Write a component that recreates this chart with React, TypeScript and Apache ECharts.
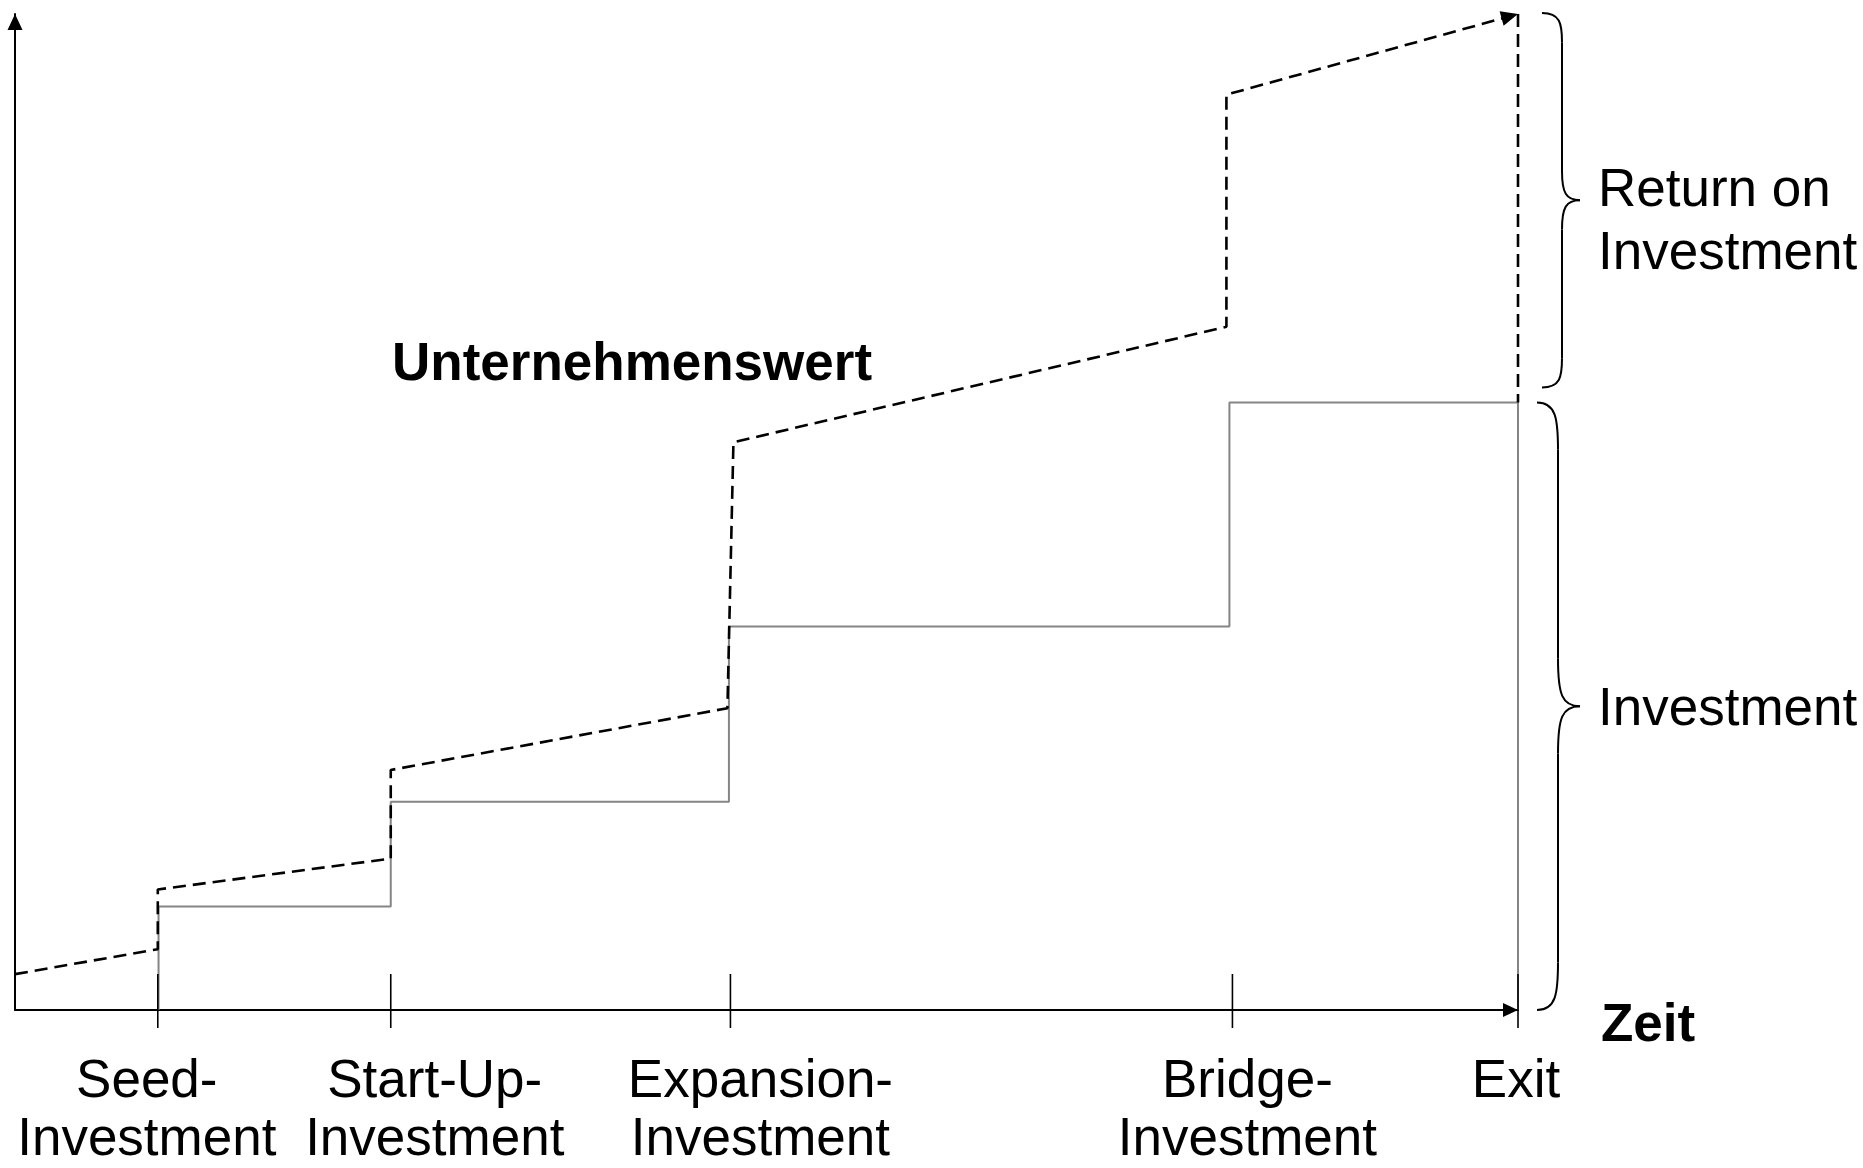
import React, { useEffect, useRef } from "react";
import * as echarts from "echarts";

// Zeitachse: 0 = Gründung, 100 = Exit
const stageNames = [
  "Seed-\nInvestment",
  "Start-Up-\nInvestment",
  "Expansion-\nInvestment",
  "Bridge-\nInvestment",
  "Exit",
];
const stageTicks = [9.5, 25, 47.6, 81, 100];

// Investment (kumuliert) – graue Stufenlinie
const investmentX = [9.55, 9.55, 25, 25, 47.5, 47.5, 80.8, 80.8, 100, 100];
const investmentY = [0, 10.4, 10.4, 20.9, 20.9, 38.5, 38.5, 61, 61, 0];

// Unternehmenswert – gestrichelte Linie
const valueX = [0, 9.5, 9.5, 25, 25, 47.4, 47.8, 80.6, 80.6, 100];
const valueY = [3.6, 6.1, 12.1, 15.2, 24.1, 30.3, 57.0, 68.6, 91.9, 100];

// Exit: Wert und Investment
const exitX = 100;
const exitValue = 100;
const exitInvestment = 61;

// layout-only (pixel shifts of the stage labels relative to their ticks)
const labelShift = [-11, 44, 30, 15, -2];

const FONT = "Liberation Sans, Arial, Helvetica, sans-serif";
const FS = 53;

export default function App() {
  const ref = useRef<HTMLDivElement>(null);

  useEffect(() => {
    const el = ref.current!;
    const chart = echarts.init(el, null, { renderer: "svg" });

    const investmentPts = investmentX.map((x, i) => [x, investmentY[i]]);
    const valuePts = valueX.map((x, i) => [x, valueY[i]]);
    const n = valueX.length;

    const option: any = {
      animation: false,
      backgroundColor: "#ffffff",
      grid: { left: 15, right: 345, top: 14, bottom: 158, containLabel: false },
      xAxis: {
        type: "value",
        min: 0,
        max: 100,
        axisLine: {
          show: true,
          onZero: false,
          symbol: ["none", "triangle"],
          symbolSize: [14, 15],
          symbolOffset: [0, -7.5],
          lineStyle: { color: "#000", width: 2 },
        },
        axisTick: { show: false },
        axisLabel: { show: false },
        splitLine: { show: false },
      },
      yAxis: {
        type: "value",
        min: 0,
        max: 100,
        axisLine: {
          show: true,
          onZero: false,
          symbol: ["none", "triangle"],
          symbolSize: [15, 16],
          symbolOffset: [0, -8],
          lineStyle: { color: "#000", width: 2 },
        },
        axisTick: { show: false },
        axisLabel: { show: false },
        splitLine: { show: false },
      },
      series: [
        {
          name: "Investment",
          type: "line",
          data: investmentPts,
          symbol: "none",
          clip: false,
          lineStyle: { color: "#858585", width: 2 },
          z: 2,
        },
        {
          name: "Unternehmenswert",
          type: "line",
          data: valuePts,
          symbol: "none",
          clip: false,
          lineStyle: { color: "#000", width: 2.6, type: [13, 7] },
          z: 3,
        },
        {
          name: "Exit-Differenz",
          type: "line",
          data: [
            [exitX, exitValue],
            [exitX, exitInvestment],
          ],
          symbol: "none",
          clip: false,
          lineStyle: { color: "#000", width: 2.6, type: [13, 7] },
          z: 3,
        },
        {
          name: "Pfeil",
          type: "custom",
          clip: false,
          z: 4,
          encode: { x: 0, y: 1 },
          data: [[valueX[n - 1], valueY[n - 1], valueX[n - 2], valueY[n - 2]]],
          renderItem: (params: any, api: any) => {
            const tip = api.coord([api.value(0), api.value(1)]);
            const from = api.coord([api.value(2), api.value(3)]);
            const dx = tip[0] - from[0];
            const dy = tip[1] - from[1];
            const len = Math.hypot(dx, dy);
            const ux = dx / len;
            const uy = dy / len;
            const L = 17;
            const W = 7.5;
            const bx = tip[0] - ux * L;
            const by = tip[1] - uy * L;
            return {
              type: "polygon",
              shape: {
                points: [
                  [tip[0], tip[1]],
                  [bx - uy * W, by + ux * W],
                  [bx + uy * W, by - ux * W],
                ],
              },
              style: { fill: "#000", stroke: "none" },
            };
          },
        },
        {
          name: "Ticks",
          type: "custom",
          clip: false,
          z: 5,
          encode: { x: 0, y: 1 },
          data: stageTicks.map((t) => [t, 0]),
          renderItem: (params: any, api: any) => {
            const p = api.coord([api.value(0), 0]);
            return {
              type: "line",
              shape: { x1: p[0], y1: p[1] - 36, x2: p[0], y2: p[1] + 18 },
              style: { stroke: "#000", lineWidth: 1.6 },
            };
          },
        },
        {
          name: "Labels",
          type: "custom",
          clip: false,
          z: 5,
          encode: { x: 0, y: 1 },
          data: stageTicks.map((t) => [t, 0]),
          renderItem: (params: any, api: any) => {
            const i = params.dataIndex;
            const p = api.coord([api.value(0), 0]);
            const lines = stageNames[i].split("\n");
            return {
              type: "group",
              children: lines.map((ln, k) => ({
                type: "text",
                x: p[0] + labelShift[i],
                y: p[1] + 68.5 + k * 57.5,
                style: {
                  text: ln,
                  fill: "#000",
                  fontSize: FS,
                  fontFamily: FONT,
                  align: "center",
                  textAlign: "center",
                  verticalAlign: "middle",
                  textVerticalAlign: "middle",
                  lineHeight: 44,
                },
              })),
            };
          },
        },
      ],
    };

    chart.setOption(option);

    const px = (x: number, y: number) =>
      chart.convertToPixel({ gridIndex: 0 }, [x, y]) as number[];
    const pTop = px(exitX, exitValue);
    const pMid = px(exitX, exitInvestment);
    const pBot = px(exitX, 0);

    const st = { stroke: "#000", lineWidth: 2, fill: "none" };
    const brace = (xL: number, xS: number, xT: number, yT: number, yB: number) => {
      const h = yB - yT;
      const r = h * 0.078;
      const ym = (yT + yB) / 2;
      return [
        {
          type: "bezierCurve",
          shape: { x1: xL, y1: yT, cpx1: xS - 2, cpy1: yT, cpx2: xS, cpy2: yT + r * 0.35, x2: xS, y2: yT + r },
          style: st,
          silent: true,
        },
        { type: "line", shape: { x1: xS, y1: yT + r, x2: xS, y2: ym - r }, style: st, silent: true },
        {
          type: "bezierCurve",
          shape: { x1: xS, y1: ym - r, cpx1: xS, cpy1: ym - r * 0.25, cpx2: xS + 4, cpy2: ym, x2: xT, y2: ym },
          style: st,
          silent: true,
        },
        {
          type: "bezierCurve",
          shape: { x1: xT, y1: ym, cpx1: xS + 4, cpy1: ym, cpx2: xS, cpy2: ym + r * 0.25, x2: xS, y2: ym + r },
          style: st,
          silent: true,
        },
        { type: "line", shape: { x1: xS, y1: ym + r, x2: xS, y2: yB - r }, style: st, silent: true },
        {
          type: "bezierCurve",
          shape: { x1: xS, y1: yB - r, cpx1: xS, cpy1: yB - r * 0.35, cpx2: xS - 2, cpy2: yB, x2: xL, y2: yB },
          style: st,
          silent: true,
        },
      ];
    };

    const upperTop = pTop[1] - 1;
    const upperBot = pMid[1] - 15;
    const lowerTop = pMid[1];
    const lowerBot = pBot[1];
    const ex = pTop[0];

    const textStyle = (text: string, extra: any) => ({
      text,
      fill: "#000",
      fontSize: FS,
      fontFamily: FONT,
      ...extra,
    });

    chart.setOption({
      graphic: [
        ...brace(ex + 24, ex + 44, ex + 62, upperTop, upperBot),
        ...brace(ex + 19, ex + 40, ex + 62, lowerTop, lowerBot),
        {
          type: "text",
          x: ex + 80,
          y: (upperTop + upperBot) / 2 - 44,
          style: textStyle("Return on\nInvestment", {
            align: "left",
            textAlign: "left",
            verticalAlign: "top",
            textVerticalAlign: "top",
            lineHeight: 63,
          }),
        },
        {
          type: "text",
          x: ex + 80,
          y: (lowerTop + lowerBot) / 2 + 0.5,
          style: textStyle("Investment", {
            align: "left",
            textAlign: "left",
            verticalAlign: "middle",
            textVerticalAlign: "middle",
          }),
        },
        {
          type: "text",
          x: ex + 83,
          y: pBot[1] + 12.5,
          style: textStyle("Zeit", {
            fontWeight: "bold",
            align: "left",
            textAlign: "left",
            verticalAlign: "middle",
            textVerticalAlign: "middle",
          }),
        },
        {
          type: "text",
          x: 392,
          y: 361.5,
          style: textStyle("Unternehmenswert", {
            fontWeight: "bold",
            align: "left",
            textAlign: "left",
            verticalAlign: "middle",
            textVerticalAlign: "middle",
          }),
        },
      ],
    });

    return () => {
      chart.dispose();
    };
  }, []);

  return (
    <div
      ref={ref}
      style={{
        position: "fixed",
        left: 0,
        top: 0,
        width: 1863,
        height: 1168,
        background: "#fff",
      }}
    />
  );
}
